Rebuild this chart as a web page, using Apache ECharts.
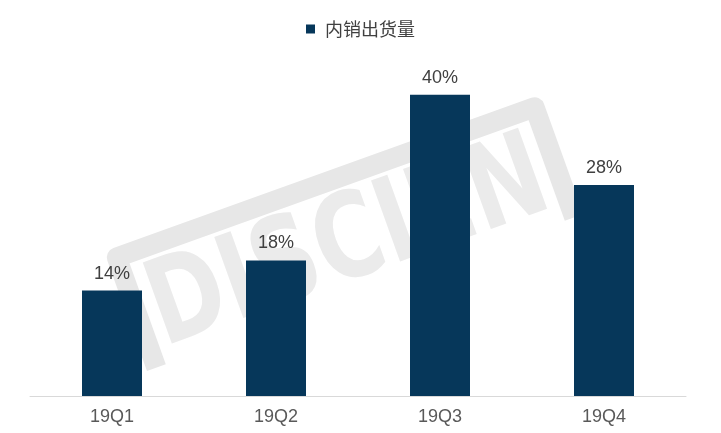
<!DOCTYPE html>
<html>
<head>
<meta charset="utf-8">
<script src="https://cdn.jsdelivr.net/npm/echarts@6/dist/echarts.min.js"></script>
<style>html,body{margin:0;padding:0;background:#fff}#c{width:721px;height:433px}</style>
</head>
<body>
<div id="c"></div>
<script>
var categories = ['19Q1', '19Q2', '19Q3', '19Q4'];
var seriesName = '内销出货量';
var values = [14, 18, 40, 28];

var chart = echarts.init(document.getElementById('c'));
chart.setOption({
  animation: false,
  backgroundColor: '#ffffff',
  graphic: [{
    type: 'group',
    x: 345, y: 236,
    rotation: 0.345,
    z: -10,
    silent: true,
    children: [{
      type: 'polyline',
      shape: { points: [[-222, 60], [-222, -57], [222, -57], [222, 60]] },
      style: { fill: null, stroke: '#e7e7e7', lineWidth: 20, lineJoin: 'round' }
    }, {
      type: 'text',
      x: 0, y: 12,
      scaleX: 0.86,
      style: {
        text: 'DISCIEN',
        font: 'bold 118px "DejaVu Sans Condensed"',
        align: 'center',
        verticalAlign: 'middle',
        fill: '#ebebeb'
      }
    }]
  }],
  legend: {
    top: 15,
    left: 'center',
    itemWidth: 9, itemHeight: 9,
    icon: 'rect',
    itemGap: 6,
    textStyle: { fontSize: 18, color: '#404040', padding: [0, 0, 0, 5], fontFamily: '"Noto Sans CJK SC", sans-serif' },
    data: [seriesName]
  },
  grid: { left: 30, right: 35, top: 57, bottom: 37 },
  xAxis: {
    type: 'category',
    data: categories,
    axisLine: { lineStyle: { color: '#d9d9d9', width: 1 } },
    axisTick: { show: false },
    axisLabel: { fontSize: 18, color: '#595959', margin: 12, fontFamily: 'Arial, "Liberation Sans", sans-serif' }
  },
  yAxis: {
    type: 'value',
    min: 0, max: 45,
    show: false,
    splitLine: { show: false }
  },
  series: [{
    name: seriesName,
    type: 'bar',
    data: values,
    barWidth: 60,
    itemStyle: { color: '#06375a' },
    label: {
      show: true,
      position: 'top',
      distance: 8,
      formatter: '{c}%',
      fontSize: 18,
      color: '#404040',
      fontFamily: 'Arial, "Liberation Sans", sans-serif'
    }
  }]
});
</script>
</body>
</html>
